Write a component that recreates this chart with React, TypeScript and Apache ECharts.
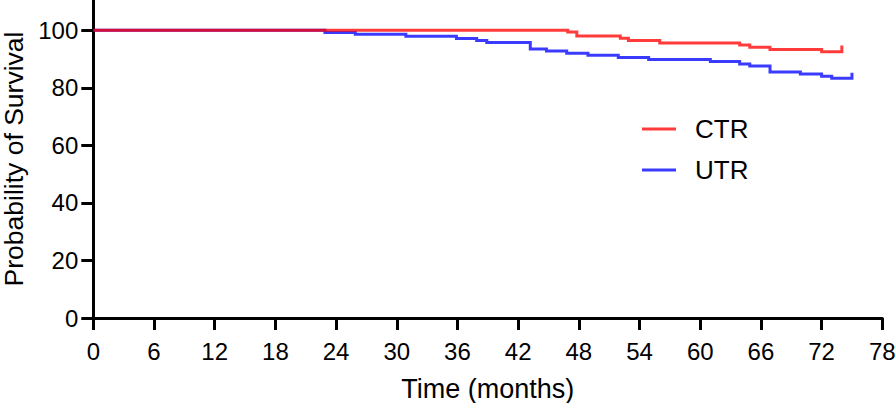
import React, { useEffect, useRef } from "react";
import * as echarts from "echarts";

const xTicks = [0, 6, 12, 18, 24, 30, 36, 42, 48, 54, 60, 66, 72, 78];
const yTicks = [0, 20, 40, 60, 80, 100];

const seriesNames = ["CTR", "UTR"];

// Kaplan-Meier step points (time in months, survival %); last pair is the censor tick
const ctrTime = [0, 46.9, 47.8, 52.1, 52.9, 56.0, 63.9, 64.9, 66.9, 72.0, 74.0, 74.0];
const ctrSurv = [100, 99.4, 98.0, 97.2, 96.4, 95.6, 94.9, 94.1, 93.3, 92.5, 92.5, 94.7];

const utrTime = [0, 22.9, 25.9, 30.9, 35.9, 37.9, 38.9, 43.2, 44.8, 46.8, 48.9, 51.9, 54.9, 61.0, 63.9, 64.9, 66.9, 69.9, 72.0, 73.0, 75.0, 75.0];
const utrSurv = [100, 99.2, 98.6, 97.9, 97.1, 96.4, 95.7, 93.5, 92.8, 92.0, 91.3, 90.5, 89.8, 89.1, 88.3, 87.6, 85.5, 84.8, 84.0, 83.3, 83.3, 85.2];

const FONT = "'Liberation Sans', Arial, Helvetica, sans-serif";
const RED = "rgba(255,0,0,0.77)";
const BLUE = "rgba(0,0,255,0.77)";

export default function App() {
  const ref = useRef<HTMLDivElement>(null);
  useEffect(() => {
    if (!ref.current) return;
    const chart = echarts.init(ref.current, undefined, { renderer: "svg" });
    const pairs = (t: number[], s: number[]) => t.map((v, i) => [v, s[i]]);
    chart.setOption({
      animation: false,
      backgroundColor: "#ffffff",
      grid: {
        left: 93.3,
        right: 12.7,
        top: 0,
        bottom: 85,
        containLabel: false,
        outerBoundsMode: "none",
      },
      legend: {
        data: seriesNames,
        orient: "vertical",
        left: 642,
        top: 116,
        padding: 0,
        itemGap: 15,
        icon: "rect",
        itemWidth: 34,
        itemHeight: 3,
        textStyle: { fontSize: 26, fontFamily: FONT, color: "#000", lineHeight: 26, padding: [0, 0, 0, 14] },
      },
      xAxis: {
        type: "value",
        min: 0,
        max: 78,
        interval: 6,
        name: "Time (months)",
        nameLocation: "middle",
        nameGap: 57,
        nameTextStyle: { fontSize: 27, fontFamily: FONT, color: "#000" },
        axisLine: { show: true, onZero: false, lineStyle: { color: "#000", width: 3 } },
        axisTick: { show: true, length: 12, lineStyle: { color: "#000", width: 3 } },
        axisLabel: { fontSize: 24, fontFamily: FONT, color: "#000", margin: 21, hideOverlap: false },
        splitLine: { show: false },
      },
      yAxis: {
        type: "value",
        min: 0,
        max: 110.5,
        name: "Probability of Survival",
        nameLocation: "middle",
        nameGap: 64,
        nameTextStyle: { fontSize: 26.5, fontFamily: FONT, color: "#000" },
        axisLine: { show: true, onZero: false, lineStyle: { color: "#000", width: 3 } },
        axisTick: { show: true, length: 12, customValues: yTicks, lineStyle: { color: "#000", width: 3 } },
        axisLabel: { fontSize: 24, fontFamily: FONT, color: "#000", margin: 15, customValues: yTicks },
        splitLine: { show: false },
      },
      series: [
        {
          name: seriesNames[0],
          type: "line",
          step: "end",
          showSymbol: false,
          z: 3,
          itemStyle: { color: RED },
          lineStyle: { color: RED, width: 3, cap: "butt", join: "miter" },
          data: pairs(ctrTime, ctrSurv),
        },
        {
          name: seriesNames[1],
          type: "line",
          step: "end",
          showSymbol: false,
          z: 2,
          itemStyle: { color: BLUE },
          lineStyle: { color: BLUE, width: 3, cap: "butt", join: "miter" },
          data: pairs(utrTime, utrSurv),
        },
      ],
    });
    return () => chart.dispose();
  }, []);
  return (
    <div
      ref={ref}
      style={{ position: "fixed", left: 0, top: 0, width: 895, height: 403, background: "#fff" }}
    />
  );
}
